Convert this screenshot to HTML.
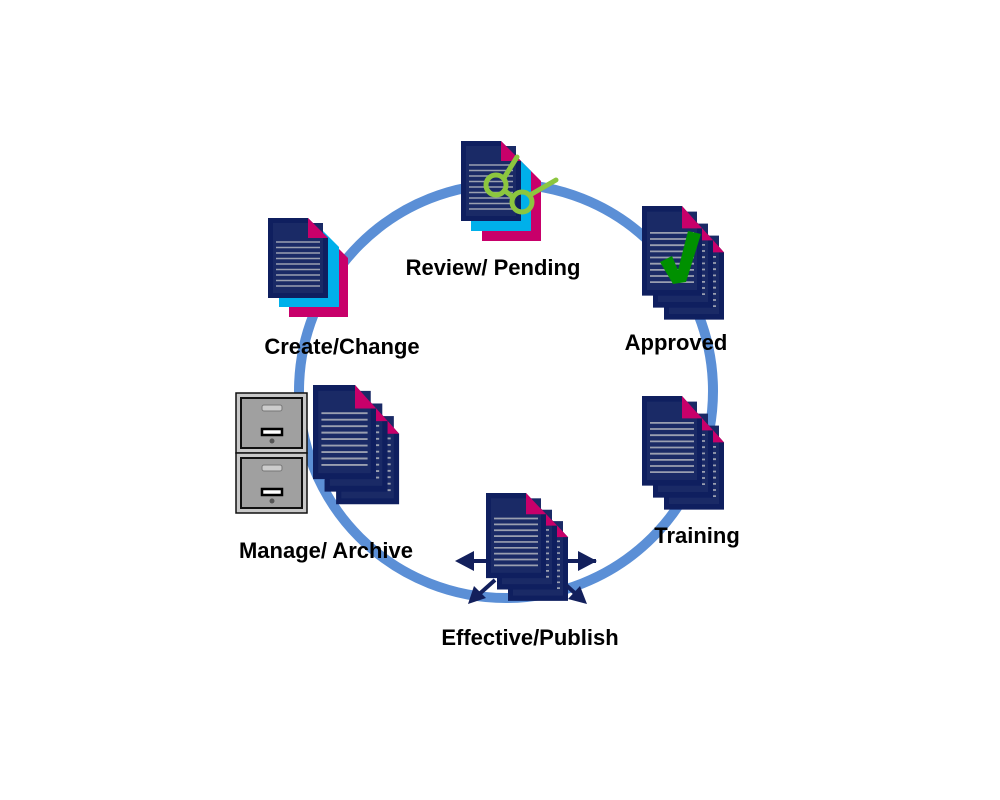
<!DOCTYPE html>
<html><head><meta charset="utf-8"><style>
html,body{margin:0;padding:0;background:#fff;}
svg{display:block;}
text{font-family:"Liberation Sans",sans-serif;font-size:22px;font-weight:bold;fill:#000;text-anchor:middle;}
</style></head><body>
<svg width="1000" height="800" viewBox="0 0 1000 800">
<defs>
<g id="doc">
 <polygon points="0,0 40,0 60,20 60,80 0,80" fill="#0f1f5f"/>
 <rect x="5" y="5" width="50" height="70" fill="#1a2a66"/>
 <polygon points="40,0 60,20 40,20" fill="#c8006a"/>
 <g stroke="#9a9fb0" stroke-width="1.6">
  <line x1="8" y1="24" x2="52" y2="24"/><line x1="8" y1="29.5" x2="52" y2="29.5"/>
  <line x1="8" y1="35" x2="52" y2="35"/><line x1="8" y1="40.5" x2="52" y2="40.5"/>
  <line x1="8" y1="46" x2="52" y2="46"/><line x1="8" y1="51.5" x2="52" y2="51.5"/>
  <line x1="8" y1="57" x2="52" y2="57"/><line x1="8" y1="62.5" x2="52" y2="62.5"/>
  <line x1="8" y1="68" x2="52" y2="68"/>
 </g>
</g>
<g id="stack">
 <use href="#doc" transform="translate(22,24) scale(1,1.12)"/>
 <use href="#doc" transform="translate(11,12) scale(1,1.12)"/>
 <use href="#doc" transform="scale(1,1.12)"/>
</g>
<g id="drawer">
 <rect x="0" y="0" width="71" height="60" fill="#c8c8c8" stroke="#111" stroke-width="1.5"/>
 <rect x="5" y="5" width="61" height="50" fill="#a0a0a0" stroke="#111" stroke-width="2"/>
 <rect x="26" y="12" width="20" height="6" rx="2" fill="#ccc" stroke="#777"/>
 <rect x="26" y="36" width="20" height="6" fill="#fff" stroke="#000" stroke-width="2.5"/>
 <circle cx="36" cy="48" r="2.5" fill="#555"/>
</g>
</defs>

<circle cx="506" cy="391" r="207" fill="none" stroke="#5b8fd6" stroke-width="10"/>

<polygon points="289,238 328,238 348,258 348,317 289,317" fill="#c8006a"/>
<polygon points="279,227 319,227 339,247 339,307 279,307" fill="#00b0ea"/>
<use href="#doc" transform="translate(268,218)"/>

<polygon points="482,161 521,161 541,181 541,241 482,241" fill="#c8006a"/>
<polygon points="471,151 511,151 531,171 531,231 471,231" fill="#00b0ea"/>
<use href="#doc" transform="translate(461,141)"/>
<g fill="none" stroke="#8cc63f" stroke-width="5" stroke-linecap="round">
 <circle cx="496" cy="185" r="10"/>
 <circle cx="522" cy="202" r="10"/>
 <line x1="504" y1="178" x2="517" y2="157"/>
 <line x1="530" y1="195" x2="556" y2="180"/>
 <line x1="505" y1="191" x2="513" y2="197"/>
</g>

<use href="#stack" transform="translate(642,206)"/>
<polygon points="660,262 672,256 678,270 688,231 701,234 686,282 673,284" fill="#009000"/>

<use href="#stack" transform="translate(642,396)"/>

<use href="#drawer" transform="translate(236,393)"/>
<use href="#drawer" transform="translate(236,453)"/>
<use href="#stack" transform="translate(313,385) scale(1.05,1.05)"/>

<g fill="#13205c" stroke="#13205c" stroke-width="4">
 <line x1="470" y1="561" x2="596" y2="561"/>
 <polygon points="455,561 474,551 474,571" stroke="none"/>
 <polygon points="597,561 578,551 578,571" stroke="none"/>
</g>
<use href="#stack" transform="translate(486,493) scale(1,0.95)"/>
<g fill="#13205c" stroke="#13205c" stroke-width="4">
 <line x1="495" y1="580" x2="476" y2="597"/>
 <polygon points="468,604 474,586 486,598" stroke="none"/>
 <line x1="566" y1="585" x2="578" y2="596"/>
 <polygon points="587,604 568,599 580,586" stroke="none"/>
</g>

<text x="493" y="275">Review/ Pending</text>
<text x="342" y="354">Create/Change</text>
<text x="676" y="350">Approved</text>
<text x="697" y="543">Training</text>
<text x="326" y="558">Manage/ Archive</text>
<text x="530" y="645">Effective/Publish</text>
</svg>
</body></html>
